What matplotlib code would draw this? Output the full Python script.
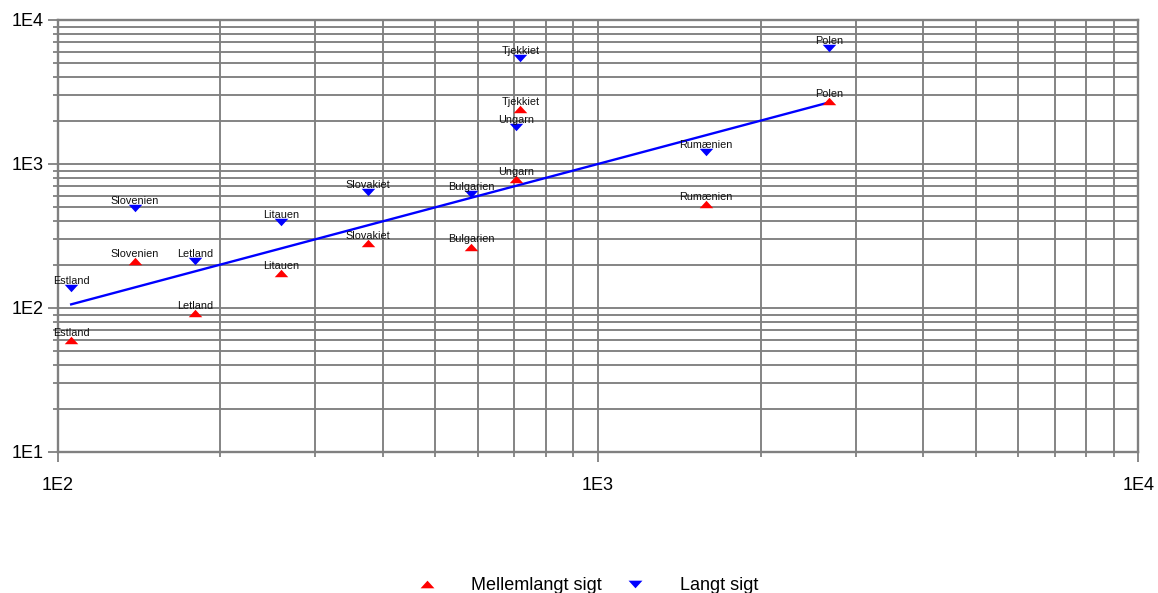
import matplotlib
matplotlib.use("Agg")
import matplotlib.pyplot as plt
from matplotlib.ticker import LogLocator, FuncFormatter, NullFormatter
from matplotlib.lines import Line2D
import numpy as np

plt.rcParams['font.family'] = ['Liberation Sans', 'DejaVu Sans']

countries = ["Estland", "Slovenien", "Letland", "Litauen", "Slovakiet",
             "Bulgarien", "Ungarn", "Tjekkiet", "Rumænien", "Polen"]
x_values = [106, 139, 180, 259, 375, 583, 706, 719, 1586, 2676]
medium_term = [60, 212, 92, 174, 281, 267, 787, 2399, 527, 2740]
long_term = [138, 492, 211, 397, 642, 619, 1816, 5470, 1206, 6424]
series_labels = ["Mellemlangt sigt", "Langt sigt"]

GRID = "#808080"

# flattened triangles
tri_up = [(-1, -0.55), (1, -0.55), (0, 0.55), (-1, -0.55)]
tri_down = [(-1, 0.55), (1, 0.55), (0, -0.55), (-1, 0.55)]

fig = plt.figure(figsize=(11.58, 5.93), dpi=100)
ax = fig.add_axes([57.5 / 1158, 1 - 452 / 593, (1138.3 - 57.5) / 1158, 432 / 593])
ax.set_xscale("log")
ax.set_yscale("log")
ax.set_xlim(100, 10000)
ax.set_ylim(10, 10000)

# grid on every decade and sub-decade
ax.xaxis.set_major_locator(LogLocator(base=10, numticks=10))
ax.yaxis.set_major_locator(LogLocator(base=10, numticks=10))
ax.xaxis.set_minor_locator(LogLocator(base=10, subs=np.arange(2, 10), numticks=20))
ax.yaxis.set_minor_locator(LogLocator(base=10, subs=np.arange(2, 10), numticks=20))
fmt = FuncFormatter(lambda v, p: "1E%d" % int(round(np.log10(v))))
ax.xaxis.set_major_formatter(fmt)
ax.yaxis.set_major_formatter(fmt)
ax.xaxis.set_minor_formatter(NullFormatter())
ax.yaxis.set_minor_formatter(NullFormatter())
ax.grid(True, which="both", color=GRID, linewidth=1.35)
ax.set_axisbelow(True)
for s in ax.spines.values():
    s.set_color(GRID)
    s.set_linewidth(1.7)
ax.tick_params(which="major", length=7, width=1.3, color=GRID, labelsize=13)
ax.tick_params(which="minor", length=3.5, width=1.3, color=GRID)
ax.tick_params(axis="x", which="major", pad=11)
ax.tick_params(axis="y", which="major", pad=3)

# identity line across the data range
xl = np.array([min(x_values), max(x_values)])
ax.plot(xl, xl, color="#0000ff", linewidth=1.7, zorder=3)

ax.scatter(x_values, medium_term, marker=tri_up, s=95, color="#ff0000",
           linewidths=0, zorder=4)
ax.scatter(x_values, long_term, marker=tri_down, s=95, color="#0000ff",
           linewidths=0, zorder=4)

for name, xv, ym, yl in zip(countries, x_values, medium_term, long_term):
    for yv in (ym, yl):
        ax.annotate(name, (xv, yv), xytext=(0, 3), textcoords="offset points",
                    ha="center", va="baseline", fontsize=7.8, color="#111111",
                    zorder=5)

handles = [
    Line2D([], [], linestyle="none", marker=tri_up, markersize=10,
           color="#ff0000", markeredgewidth=0),
    Line2D([], [], linestyle="none", marker=tri_down, markersize=10,
           color="#0000ff", markeredgewidth=0),
]
fig.legend(handles, series_labels, loc="center", ncol=2,
           bbox_to_anchor=(587.9 / 1158, 7 / 593), frameon=False,
           fontsize=13, handlelength=1.0, handletextpad=1.96,
           columnspacing=1.33, borderpad=0)

fig.savefig("out.png", dpi=100)
